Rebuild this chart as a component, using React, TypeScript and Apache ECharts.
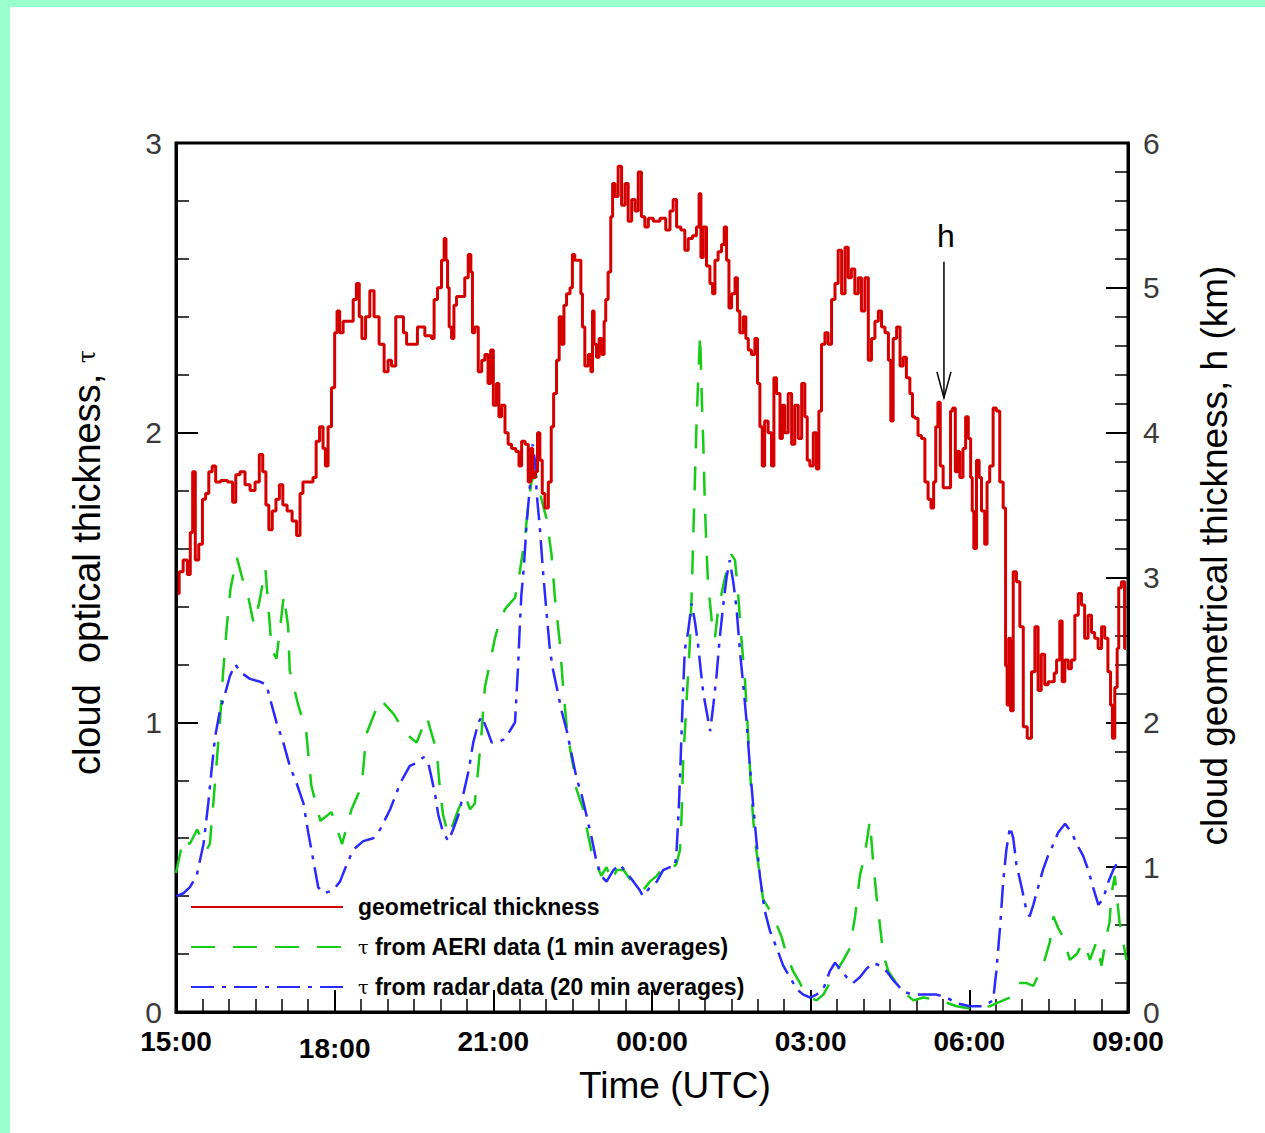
import React, { useEffect, useRef } from "react";
import * as echarts from "echarts";

// Time axis: hours elapsed since 15:00 UTC
const xTickLabels = ["15:00", "18:00", "21:00", "00:00", "03:00", "06:00", "09:00"];
const leftTickLabels = ["0", "1", "2", "3"];
const rightTickLabels = ["0", "1", "2", "3", "4", "5", "6"];

const seriesNames = [
  "geometrical thickness",
  "τ from AERI data (1 min averages)",
  "τ from radar data (20 min averages)",
];

// [hours since 15:00, cloud geometrical thickness h (km)]
const geoThickness: number[][] = [
  [0.03, 2.89], [0.09, 3.04], [0.18, 3.12], [0.25, 3.02], [0.29, 3.31], [0.34, 3.73], [0.39, 3.12],
  [0.47, 3.23], [0.53, 3.54], [0.59, 3.58], [0.65, 3.73], [0.72, 3.77], [0.78, 3.66], [0.91, 3.67],
  [1.04, 3.66], [1.1, 3.52], [1.16, 3.71], [1.26, 3.73], [1.35, 3.64], [1.45, 3.6], [1.54, 3.66],
  [1.61, 3.85], [1.67, 3.73], [1.73, 3.5], [1.78, 3.33], [1.86, 3.46], [1.92, 3.54], [1.99, 3.64],
  [2.05, 3.5], [2.15, 3.46], [2.24, 3.39], [2.32, 3.29], [2.37, 3.58], [2.43, 3.66], [2.56, 3.66],
  [2.62, 3.69], [2.68, 3.94], [2.75, 4.04], [2.81, 3.89], [2.84, 3.77], [2.91, 4.04], [2.97, 4.31],
  [3.03, 4.69], [3.06, 4.84], [3.13, 4.69], [3.19, 4.77], [3.32, 4.77], [3.38, 4.92], [3.44, 5.03],
  [3.49, 4.8], [3.54, 4.65], [3.63, 4.8], [3.7, 4.98], [3.79, 4.8], [3.89, 4.61], [3.98, 4.42],
  [4.04, 4.5], [4.11, 4.46], [4.2, 4.8], [4.27, 4.8], [4.33, 4.69], [4.39, 4.61], [4.52, 4.61],
  [4.61, 4.73], [4.8, 4.67], [4.86, 4.65], [4.9, 4.92], [4.99, 5.0], [5.05, 5.19], [5.09, 5.34],
  [5.12, 5.19], [5.15, 5.0], [5.18, 4.73], [5.24, 4.65], [5.27, 4.88], [5.34, 4.94], [5.43, 4.94],
  [5.49, 5.07], [5.56, 5.23], [5.59, 5.11], [5.62, 4.69], [5.68, 4.73], [5.75, 4.42], [5.81, 4.5],
  [5.87, 4.54], [5.93, 4.34], [5.97, 4.57], [6.03, 4.19], [6.09, 4.34], [6.12, 4.11], [6.19, 4.19],
  [6.25, 4.0], [6.31, 3.92], [6.38, 3.89], [6.47, 3.87], [6.5, 3.77], [6.57, 3.94], [6.63, 3.92],
  [6.69, 3.66], [6.72, 3.89], [6.77, 3.69], [6.82, 3.73], [6.85, 4.0], [6.91, 3.81], [6.94, 3.58],
  [7.01, 3.48], [7.07, 3.66], [7.12, 4.04], [7.16, 4.27], [7.23, 4.5], [7.26, 4.8], [7.32, 4.61],
  [7.35, 4.88], [7.42, 4.96], [7.48, 5.0], [7.51, 5.23], [7.57, 5.19], [7.64, 5.19], [7.67, 4.96],
  [7.7, 4.73], [7.76, 4.46], [7.83, 4.54], [7.86, 4.42], [7.89, 4.84], [7.92, 4.61], [7.98, 4.52],
  [8.02, 4.65], [8.08, 4.54], [8.11, 4.77], [8.14, 4.92], [8.2, 5.11], [8.24, 5.49], [8.27, 5.72],
  [8.33, 5.63], [8.39, 5.84], [8.46, 5.57], [8.52, 5.72], [8.58, 5.46], [8.65, 5.61], [8.71, 5.53],
  [8.77, 5.8], [8.83, 5.49], [8.9, 5.42], [8.96, 5.48], [9.09, 5.46], [9.21, 5.48], [9.31, 5.4],
  [9.37, 5.53], [9.43, 5.61], [9.5, 5.42], [9.59, 5.4], [9.65, 5.26], [9.72, 5.34], [9.81, 5.36],
  [9.87, 5.42], [9.91, 5.65], [9.94, 5.21], [10.0, 5.42], [10.06, 5.15], [10.13, 5.03], [10.16, 4.96],
  [10.22, 5.19], [10.28, 5.25], [10.35, 5.3], [10.38, 5.42], [10.44, 5.19], [10.47, 4.86], [10.54, 4.96],
  [10.6, 5.07], [10.63, 4.84], [10.69, 4.69], [10.76, 4.8], [10.79, 4.65], [10.85, 4.57], [10.91, 4.54],
  [10.98, 4.65], [11.01, 4.34], [11.07, 4.04], [11.1, 3.77], [11.16, 4.08], [11.23, 4.0], [11.29, 3.77],
  [11.32, 4.38], [11.39, 4.27], [11.45, 3.96], [11.48, 4.19], [11.54, 4.0], [11.61, 4.27], [11.67, 3.92],
  [11.73, 4.19], [11.8, 3.96], [11.86, 4.34], [11.92, 4.11], [11.95, 3.81], [12.02, 3.77], [12.08, 4.0],
  [12.14, 3.75], [12.17, 4.15], [12.24, 4.61], [12.3, 4.69], [12.36, 4.61], [12.43, 4.92], [12.49, 5.03],
  [12.55, 5.26], [12.62, 4.96], [12.68, 5.28], [12.74, 5.07], [12.8, 5.13], [12.87, 4.96], [12.93, 5.07],
  [12.99, 4.84], [13.06, 5.07], [13.12, 4.5], [13.18, 4.65], [13.25, 4.77], [13.31, 4.84], [13.37, 4.73],
  [13.44, 4.69], [13.5, 4.5], [13.53, 4.08], [13.59, 4.65], [13.66, 4.73], [13.72, 4.46], [13.78, 4.52],
  [13.84, 4.38], [13.91, 4.27], [13.94, 4.11], [14.0, 4.1], [14.06, 3.98], [14.13, 3.96], [14.19, 3.66],
  [14.25, 3.54], [14.3, 3.48], [14.35, 3.66], [14.38, 4.04], [14.43, 4.21], [14.47, 3.77], [14.54, 3.62],
  [14.63, 3.62], [14.66, 4.15], [14.71, 4.17], [14.76, 3.73], [14.79, 3.87], [14.85, 3.69], [14.91, 3.89],
  [14.95, 4.11], [15.01, 3.96], [15.04, 3.69], [15.07, 3.46], [15.1, 3.2], [15.17, 3.81], [15.2, 3.69],
  [15.26, 3.46], [15.32, 3.23], [15.35, 3.66], [15.42, 3.77], [15.48, 4.17], [15.54, 4.15], [15.61, 3.66],
  [15.67, 3.48], [15.7, 2.39], [15.73, 2.12], [15.76, 2.58], [15.8, 2.08], [15.86, 3.04], [15.92, 2.97],
  [15.99, 2.66], [16.05, 1.97], [16.14, 1.89], [16.21, 2.35], [16.27, 2.66], [16.33, 2.22], [16.39, 2.47],
  [16.46, 2.26], [16.52, 2.28], [16.59, 2.28], [16.62, 2.34], [16.68, 2.43], [16.74, 2.7], [16.77, 2.28],
  [16.84, 2.43], [16.9, 2.37], [16.96, 2.43], [17.03, 2.74], [17.09, 2.89], [17.15, 2.81], [17.21, 2.58],
  [17.28, 2.74], [17.34, 2.62], [17.4, 2.58], [17.47, 2.51], [17.53, 2.66], [17.59, 2.58], [17.65, 2.35],
  [17.69, 2.12], [17.72, 1.89], [17.78, 2.24], [17.81, 2.51], [17.84, 2.93], [17.91, 2.97], [17.96, 2.51],
];

// [hours since 15:00, optical thickness τ] from AERI (1 min averages)
const aeriTau: number[][] = [
  [0.0, 0.48], [0.14, 0.6], [0.26, 0.58], [0.4, 0.63], [0.48, 0.6], [0.58, 0.56], [0.64, 0.58],
  [0.71, 0.73], [0.83, 1.0], [0.89, 1.17], [0.96, 1.33], [1.03, 1.46], [1.15, 1.57], [1.25, 1.5],
  [1.37, 1.43], [1.47, 1.34], [1.57, 1.41], [1.69, 1.53], [1.75, 1.39], [1.81, 1.25], [1.9, 1.22],
  [1.97, 1.33], [2.04, 1.44], [2.12, 1.33], [2.15, 1.18], [2.31, 1.06], [2.46, 0.97], [2.56, 0.78],
  [2.73, 0.66], [2.94, 0.69], [3.14, 0.58], [3.32, 0.7], [3.51, 0.78], [3.6, 0.96], [3.86, 1.08],
  [4.11, 1.03], [4.35, 0.96], [4.55, 0.93], [4.74, 1.02], [4.93, 0.9], [4.99, 0.77], [5.05, 0.68],
  [5.15, 0.61], [5.24, 0.65], [5.34, 0.7], [5.46, 0.75], [5.56, 0.7], [5.65, 0.72], [5.72, 0.85],
  [5.78, 0.97], [5.84, 1.12], [5.93, 1.2], [6.03, 1.29], [6.12, 1.35], [6.22, 1.39], [6.31, 1.41],
  [6.41, 1.43], [6.5, 1.52], [6.6, 1.64], [6.66, 1.75], [6.72, 1.83], [6.79, 1.86], [6.85, 1.83],
  [6.91, 1.77], [7.01, 1.7], [7.1, 1.58], [7.16, 1.44], [7.26, 1.27], [7.32, 1.12], [7.39, 0.98],
  [7.45, 0.91], [7.51, 0.85], [7.57, 0.77], [7.7, 0.7], [7.76, 0.64], [7.85, 0.56], [7.95, 0.51],
  [8.04, 0.47], [8.14, 0.5], [8.24, 0.45], [8.33, 0.49], [8.46, 0.49], [8.58, 0.46], [8.71, 0.43],
  [8.83, 0.42], [8.96, 0.45], [9.09, 0.47], [9.21, 0.5], [9.34, 0.49], [9.46, 0.51], [9.53, 0.56],
  [9.56, 0.68], [9.59, 0.87], [9.65, 1.06], [9.72, 1.29], [9.75, 1.44], [9.78, 1.64], [9.81, 1.83],
  [9.84, 2.02], [9.87, 2.17], [9.91, 2.34], [9.94, 2.13], [9.97, 1.96], [10.0, 1.75], [10.03, 1.6],
  [10.06, 1.48], [10.13, 1.35], [10.19, 1.29], [10.25, 1.39], [10.31, 1.44], [10.38, 1.5], [10.5, 1.58],
  [10.57, 1.56], [10.63, 1.44], [10.69, 1.29], [10.76, 1.14], [10.82, 0.95], [10.88, 0.75], [10.94, 0.6],
  [11.01, 0.51], [11.1, 0.39], [11.23, 0.35], [11.36, 0.3], [11.45, 0.26], [11.54, 0.2], [11.67, 0.14],
  [11.8, 0.1], [11.89, 0.06], [11.99, 0.05], [12.11, 0.04], [12.24, 0.06], [12.36, 0.1], [12.49, 0.14],
  [12.62, 0.18], [12.74, 0.22], [12.84, 0.33], [12.93, 0.47], [13.02, 0.54], [13.12, 0.66], [13.18, 0.52],
  [13.25, 0.39], [13.31, 0.3], [13.37, 0.2], [13.47, 0.14], [13.62, 0.1], [13.75, 0.07], [13.94, 0.04],
  [14.13, 0.05], [14.44, 0.04], [14.76, 0.02], [15.07, 0.01], [15.39, 0.02], [15.64, 0.04], [15.77, 0.05],
  [15.92, 0.1], [16.08, 0.1], [16.21, 0.09], [16.39, 0.16], [16.52, 0.24], [16.59, 0.33], [16.68, 0.29],
  [16.77, 0.26], [16.9, 0.18], [17.03, 0.2], [17.15, 0.24], [17.21, 0.22], [17.28, 0.18], [17.4, 0.24],
  [17.5, 0.16], [17.59, 0.26], [17.65, 0.31], [17.69, 0.41], [17.75, 0.47], [17.84, 0.31], [17.91, 0.24],
  [17.97, 0.18],
];

// [hours since 15:00, optical thickness τ] from radar (20 min averages)
const radarTau: number[][] = [
  [0.01, 0.4], [0.14, 0.41], [0.26, 0.43], [0.39, 0.47], [0.52, 0.58], [0.61, 0.72], [0.67, 0.83],
  [0.74, 0.95], [0.83, 1.04], [0.93, 1.1], [1.02, 1.16], [1.12, 1.2], [1.24, 1.17], [1.4, 1.15],
  [1.59, 1.14], [1.71, 1.13], [1.81, 1.06], [1.9, 1.0], [2.03, 0.93], [2.15, 0.85], [2.28, 0.79],
  [2.41, 0.72], [2.5, 0.62], [2.6, 0.52], [2.69, 0.43], [2.79, 0.41], [2.97, 0.42], [3.1, 0.45],
  [3.23, 0.51], [3.35, 0.56], [3.54, 0.59], [3.73, 0.6], [3.86, 0.63], [4.05, 0.7], [4.24, 0.79],
  [4.42, 0.85], [4.55, 0.86], [4.68, 0.88], [4.77, 0.86], [4.83, 0.81], [4.9, 0.75], [4.96, 0.68],
  [5.05, 0.62], [5.15, 0.59], [5.24, 0.63], [5.34, 0.68], [5.43, 0.75], [5.53, 0.83], [5.62, 0.93],
  [5.72, 1.0], [5.78, 1.02], [5.87, 0.98], [5.97, 0.93], [6.06, 0.93], [6.19, 0.94], [6.31, 0.97],
  [6.41, 1.0], [6.44, 1.1], [6.47, 1.2], [6.5, 1.33], [6.53, 1.44], [6.57, 1.52], [6.6, 1.6],
  [6.63, 1.69], [6.69, 1.81], [6.74, 1.96], [6.79, 1.9], [6.82, 1.79], [6.88, 1.67], [6.94, 1.52],
  [7.01, 1.37], [7.07, 1.25], [7.13, 1.18], [7.2, 1.12], [7.29, 1.04], [7.39, 0.97], [7.48, 0.89],
  [7.57, 0.81], [7.67, 0.75], [7.76, 0.68], [7.86, 0.6], [7.95, 0.52], [8.04, 0.47], [8.14, 0.45],
  [8.27, 0.49], [8.39, 0.51], [8.52, 0.48], [8.65, 0.45], [8.77, 0.42], [8.83, 0.4], [8.96, 0.43],
  [9.09, 0.45], [9.21, 0.49], [9.34, 0.5], [9.43, 0.5], [9.46, 0.54], [9.5, 0.68], [9.53, 0.81],
  [9.56, 0.97], [9.59, 1.12], [9.62, 1.25], [9.68, 1.31], [9.75, 1.41], [9.81, 1.35], [9.87, 1.27],
  [9.91, 1.2], [9.97, 1.1], [10.03, 1.04], [10.1, 0.97], [10.16, 1.06], [10.22, 1.16], [10.28, 1.29],
  [10.35, 1.41], [10.41, 1.5], [10.47, 1.56], [10.54, 1.48], [10.6, 1.39], [10.66, 1.25], [10.72, 1.14],
  [10.79, 1.0], [10.85, 0.85], [10.91, 0.72], [10.98, 0.58], [11.04, 0.47], [11.13, 0.35], [11.23, 0.28],
  [11.36, 0.22], [11.48, 0.16], [11.61, 0.12], [11.73, 0.08], [11.86, 0.06], [11.99, 0.05], [12.11, 0.06],
  [12.24, 0.08], [12.36, 0.14], [12.46, 0.17], [12.55, 0.15], [12.68, 0.12], [12.8, 0.1], [12.93, 0.12],
  [13.06, 0.15], [13.18, 0.17], [13.31, 0.16], [13.44, 0.14], [13.56, 0.11], [13.66, 0.09], [13.75, 0.07],
  [13.94, 0.06], [14.13, 0.06], [14.38, 0.06], [14.57, 0.05], [14.76, 0.03], [15.01, 0.02], [15.26, 0.02],
  [15.45, 0.04], [15.51, 0.14], [15.58, 0.29], [15.64, 0.45], [15.7, 0.56], [15.77, 0.64], [15.83, 0.6],
  [15.89, 0.51], [15.99, 0.43], [16.08, 0.35], [16.14, 0.33], [16.21, 0.37], [16.3, 0.43], [16.39, 0.49],
  [16.49, 0.54], [16.59, 0.58], [16.68, 0.62], [16.81, 0.65], [16.93, 0.62], [17.06, 0.57], [17.15, 0.54],
  [17.25, 0.49], [17.34, 0.43], [17.44, 0.37], [17.53, 0.39], [17.63, 0.45], [17.72, 0.49], [17.78, 0.51],
];

// annotation "h" arrow: hours, top of shaft (km), arrow tip (km), label (km)
const arrowTime = 14.52;
const arrowTopH = 5.18;
const arrowTipH = 4.24;
const arrowLabelH = 5.36;

const FONT = "'Liberation Sans', Arial, Helvetica, sans-serif";
const RED = "#d40000";
const GREEN = "#16cc16";
const BLUE = "#2a2aff";

export default function App() {
  const ref = useRef<HTMLDivElement>(null);

  useEffect(() => {
    const chart = echarts.init(ref.current!, null, { renderer: "svg" });
    const tickLabelStyle = {
      fontFamily: FONT,
      fontSize: 30,
      color: "#3a3a3a",
    };
    const option: any = {
      animation: false,
      backgroundColor: "#ffffff",
      grid: {
        left: 176,
        right: 137,
        top: 143,
        bottom: 121,
        show: true,
        borderColor: "#000",
        borderWidth: 3,
        containLabel: false,
      },
      legend: {
        data: seriesNames,
        orient: "vertical",
        left: 190,
        top: 894,
        itemWidth: 152,
        itemHeight: 14,
        itemGap: 14,
        padding: 0,
        selectedMode: false,
        itemStyle: { opacity: 0 },
        formatter: (name: string) =>
          name.startsWith("τ") ? `{tau|τ}{txt| ${name.slice(2)}}` : `{txt|${name}}`,
        textStyle: {
          padding: [0, 0, 0, 10],
          lineHeight: 26,
          rich: {
            txt: { fontFamily: FONT, fontSize: 23, fontWeight: "bold", color: "#000", lineHeight: 26 },
            tau: { fontFamily: "'DejaVu Serif', serif", fontSize: 19, color: "#000", lineHeight: 26 },
          },
        },
      },
      xAxis: {
        type: "value",
        min: 0,
        max: 18,
        interval: 3,
        name: "Time (UTC)",
        nameLocation: "middle",
        nameGap: 42,
        nameTextStyle: { fontFamily: FONT, fontSize: 37, color: "#000", padding: [0, 0, 0, 46] },
        axisLine: { show: true, lineStyle: { color: "#000", width: 3 } },
        axisTick: { show: true, inside: true, length: 22, lineStyle: { color: "#000", width: 2 } },
        minorTick: { show: true, splitNumber: 6, length: 13, lineStyle: { color: "#000", width: 1.5 } },
        splitLine: { show: false },
        axisLabel: {
          margin: 15,
          formatter: (v: number) => {
            const lab = xTickLabels[Math.round(v / 3)];
            return Math.round(v / 3) === 1 ? `{low|${lab}}` : `{n|${lab}}`;
          },
          rich: {
            n: { fontFamily: FONT, fontSize: 28, fontWeight: "bold", color: "#000" },
            low: { fontFamily: FONT, fontSize: 28, fontWeight: "bold", color: "#000", padding: [7, 0, 0, 0] },
          },
        },
      },
      yAxis: [
        {
          type: "value",
          position: "left",
          min: 0,
          max: 3,
          interval: 1,
          name: "cloud  optical thickness, {tau|τ}",
          nameLocation: "middle",
          nameRotate: 90,
          nameGap: 70,
          nameTextStyle: {
            fontFamily: FONT,
            fontSize: 38,
            color: "#000",
            padding: [0, 0, 0, 30],
            rich: { tau: { fontFamily: "'DejaVu Serif', serif", fontSize: 24, color: "#000" } },
          },
          axisLine: { show: true, lineStyle: { color: "#000", width: 3 } },
          axisTick: { show: true, inside: true, length: 22, lineStyle: { color: "#000", width: 2 } },
          minorTick: { show: true, splitNumber: 5, length: 13, lineStyle: { color: "#000", width: 1.5 } },
          splitLine: { show: false },
          axisLabel: {
            margin: 14,
            ...tickLabelStyle,
            formatter: (v: number) => leftTickLabels[Math.round(v)] ?? "",
          },
        },
        {
          type: "value",
          position: "right",
          min: 0,
          max: 6,
          interval: 1,
          name: "cloud geometrical thickness, h (km)",
          nameLocation: "middle",
          nameRotate: 90,
          nameGap: 68,
          nameTextStyle: { fontFamily: FONT, fontSize: 37, color: "#000", padding: [0, 0, 0, 44] },
          axisLine: { show: true, lineStyle: { color: "#000", width: 3 } },
          axisTick: { show: true, inside: true, length: 22, lineStyle: { color: "#000", width: 2 } },
          minorTick: { show: true, splitNumber: 5, length: 13, lineStyle: { color: "#000", width: 1.5 } },
          splitLine: { show: false },
          axisLabel: {
            margin: 15,
            ...tickLabelStyle,
            formatter: (v: number) => rightTickLabels[Math.round(v)] ?? "",
          },
        },
      ],
      series: [
        {
          name: seriesNames[0],
          type: "line",
          yAxisIndex: 1,
          data: geoThickness,
          step: "middle",
          symbol: "none",
          showSymbol: false,
          color: RED,
          lineStyle: { color: RED, width: 3 },
          z: 3,
        },
        {
          name: seriesNames[1],
          type: "line",
          yAxisIndex: 0,
          data: aeriTau,
          symbol: "none",
          showSymbol: false,
          color: GREEN,
          lineStyle: { color: GREEN, width: 2.5, type: [24, 18] },
          z: 2,
        },
        {
          name: seriesNames[2],
          type: "line",
          yAxisIndex: 0,
          data: radarTau,
          symbol: "none",
          showSymbol: false,
          color: BLUE,
          lineStyle: { color: BLUE, width: 2.5, type: [23, 8, 4, 8] },
          z: 2,
        },
      ],
    };
    chart.setOption(option);

    const top = chart.convertToPixel({ seriesIndex: 0 }, [arrowTime, arrowTopH]) as number[];
    const tip = chart.convertToPixel({ seriesIndex: 0 }, [arrowTime, arrowTipH]) as number[];
    const lab = chart.convertToPixel({ seriesIndex: 0 }, [arrowTime, arrowLabelH]) as number[];

    chart.setOption({
      graphic: [
        { id: "mintTop", type: "rect", z: 100, shape: { x: 0, y: 0, width: 1265, height: 7 }, style: { fill: "#99ffcc" } },
        { id: "mintLeft", type: "rect", z: 100, shape: { x: 0, y: 0, width: 10, height: 1133 }, style: { fill: "#99ffcc" } },
        {
          id: "arrowShaft",
          type: "line",
          z: 50,
          shape: { x1: top[0], y1: top[1], x2: tip[0], y2: tip[1] },
          style: { stroke: "#000", lineWidth: 1.5 },
        },
        {
          id: "arrowHead",
          type: "polyline",
          z: 50,
          shape: { points: [[tip[0] - 7, tip[1] - 26], [tip[0], tip[1]], [tip[0] + 7, tip[1] - 26]] },
          style: { stroke: "#000", lineWidth: 1.5, fill: null },
        },
        {
          id: "arrowLabel",
          type: "text",
          z: 50,
          x: lab[0] + 2,
          y: lab[1],
          style: {
            text: "h",
            fontFamily: FONT,
            fontSize: 32,
            fill: "#000",
            align: "center",
            verticalAlign: "middle",
          },
        },
      ],
    });

    return () => chart.dispose();
  }, []);

  return (
    <div
      ref={ref}
      style={{ position: "absolute", left: 0, top: 0, width: 1265, height: 1133, background: "#fff" }}
    />
  );
}
